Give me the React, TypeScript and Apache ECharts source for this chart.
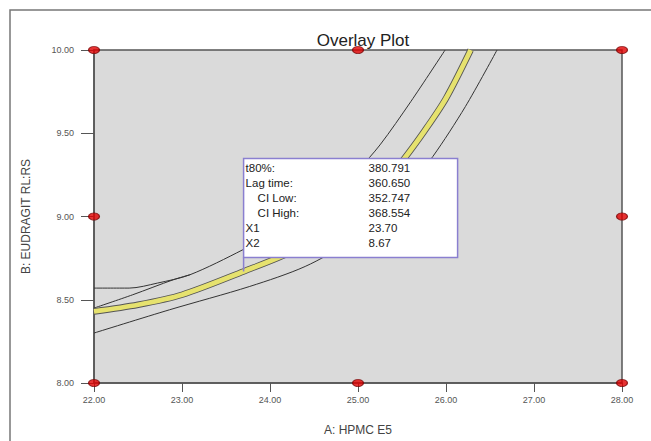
import React, { useEffect, useRef } from "react";
import * as echarts from "echarts";

const xTicks = [22, 23, 24, 25, 26, 27, 28];
const yTicks = [8, 8.5, 9, 9.5, 10];

// Desirable (yellow) contour band centre line
const bandLine: [number, number][] = [
  [22.0, 8.43], [22.5, 8.47], [23.0, 8.53], [23.7, 8.67], [24.3, 8.8], [24.8, 8.95],
  [25.2, 9.13], [25.5, 9.33], [25.75, 9.51], [26.0, 9.71], [26.28, 10.0],
];
// Upper confidence contour
const upperLine: [number, number][] = [
  [22.0, 8.57], [22.4, 8.57], [22.72, 8.6], [23.09, 8.65], [23.69, 8.8], [24.2, 8.95],
  [24.7, 9.13], [25.0, 9.28], [25.25, 9.43], [25.6, 9.69], [25.99, 10.0],
];
// Second contour that joins the upper one
const joinLine: [number, number][] = [
  [22.0, 8.45], [22.44, 8.53], [22.9, 8.62], [23.09, 8.65],
];
// Lower confidence contour
const lowerLine: [number, number][] = [
  [22.0, 8.3], [22.86, 8.44], [23.77, 8.58], [24.4, 8.7], [24.9, 8.85], [25.3, 9.03],
  [25.6, 9.2], [25.85, 9.36], [26.22, 9.66], [26.58, 10.0],
];
// Design points (red markers)
const designPoints: [number, number][] = [
  [22, 8], [25, 8], [28, 8], [22, 9], [28, 9], [22, 10], [25, 10], [28, 10],
];

const flagPoint: [number, number] = [23.7, 8.67];
const flagLabels = ["t80%:", "Lag time:", "  CI Low:", "  CI High:", "X1", "X2"];
const flagValues = ["380.791", "360.650", "352.747", "368.554", "23.70", "8.67"];

const FONT = "'Liberation Sans', Arial, sans-serif";

export default function App() {
  const ref = useRef<HTMLDivElement>(null);
  useEffect(() => {
    if (!ref.current) return;
    const chart = echarts.init(ref.current, undefined, { renderer: "svg" });
    const lineStyle = { color: "#333", width: 1 };
    const common = { smooth: 0.3, symbol: "none" };
    chart.setOption({
      animation: false,
      backgroundColor: "#ffffff",
      title: {
        text: "Overlay Plot",
        left: 358,
        top: 27,
        textAlign: "center",
        textStyle: { fontFamily: FONT, fontSize: 17, fontWeight: "normal", color: "#222" },
      },
      grid: {
        left: 94,
        right: 29,
        top: 50,
        bottom: 58,
        show: true,
        backgroundColor: "#dadada",
        borderColor: "#555",
        borderWidth: 1.5,
      },
      xAxis: {
        type: "value",
        min: 22,
        max: 28,
        interval: 1,
        name: "A: HPMC E5",
        nameLocation: "middle",
        nameGap: 41,
        nameTextStyle: { fontFamily: FONT, fontSize: 12, color: "#444" },
        axisLine: { show: true, lineStyle: { color: "#555", width: 1.5 } },
        axisTick: { show: true, length: 9, lineStyle: { color: "#555", width: 1 } },
        axisLabel: {
          fontFamily: FONT,
          fontSize: 9,
          color: "#555",
          margin: 12,
          formatter: (v: number) => v.toFixed(2),
        },
        splitLine: { show: false },
      },
      yAxis: {
        type: "value",
        min: 8,
        max: 10,
        interval: 0.5,
        name: "B: EUDRAGIT RL:RS",
        nameLocation: "middle",
        nameGap: 62,
        nameRotate: 90,
        nameTextStyle: { fontFamily: FONT, fontSize: 12, color: "#444" },
        axisLine: { show: true, lineStyle: { color: "#555", width: 1.5 } },
        axisTick: { show: true, length: 13, lineStyle: { color: "#555", width: 1 } },
        axisLabel: {
          fontFamily: FONT,
          fontSize: 9,
          color: "#555",
          margin: 20,
          formatter: (v: number) => v.toFixed(2),
        },
        splitLine: { show: false },
      },
      series: [
        { type: "line", data: upperLine, ...common, lineStyle, z: 2 },
        { type: "line", data: joinLine, ...common, lineStyle, z: 2 },
        { type: "line", data: lowerLine, ...common, lineStyle, z: 2 },
        { type: "line", data: bandLine, ...common, lineStyle: { color: "#555", width: 6.5 }, z: 3 },
        { type: "line", data: bandLine, ...common, lineStyle: { color: "#e6e26e", width: 4.8 }, z: 4 },
        {
          type: "scatter",
          data: designPoints,
          symbol: "circle",
          symbolSize: [11, 7],
          itemStyle: { color: "#e00000", borderColor: "#700", borderWidth: 1 },
          clip: false,
          z: 10,
        },
      ],
    });

    const [px, py] = chart.convertToPixel({ gridIndex: 0 }, flagPoint) as number[];
    const boxX = px;
    const boxY = py - 113;
    const boxW = 214;
    const boxH = 99;
    const rowH = 15;
    const graphics: any[] = [
      {
        type: "rect",
        shape: { x: 10, y: 10, width: 700, height: 500 },
        style: { fill: "none", stroke: "#777", lineWidth: 1.5 },
        z: 1,
      },
      {
        type: "line",
        shape: { x1: px, y1: boxY + boxH, x2: px, y2: py },
        style: { stroke: "#8a7fd0", lineWidth: 1.5 },
        z: 100,
      },
      {
        type: "rect",
        shape: { x: boxX, y: boxY, width: boxW, height: boxH },
        style: { fill: "#ffffff", stroke: "#8a7fd0", lineWidth: 1.5 },
        z: 100,
      },
    ];
    flagLabels.forEach((lab, i) => {
      const indent = lab.startsWith("  ");
      graphics.push({
        type: "text",
        x: boxX + (indent ? 14 : 2),
        y: boxY + 10 + i * rowH,
        z: 101,
        style: {
          text: lab.trim(),
          fill: "#222",
          font: `11.5px ${FONT}`,
          textVerticalAlign: "middle",
          textAlign: "left",
        },
      });
      graphics.push({
        type: "text",
        x: boxX + 125,
        y: boxY + 10 + i * rowH,
        z: 101,
        style: {
          text: flagValues[i],
          fill: "#222",
          font: `11.5px ${FONT}`,
          textVerticalAlign: "middle",
          textAlign: "left",
        },
      });
    });
    chart.setOption({ graphic: graphics });
    return () => chart.dispose();
  }, []);
  return (
    <div
      ref={ref}
      style={{ position: "fixed", left: 0, top: 0, width: 651, height: 441 }}
    />
  );
}
